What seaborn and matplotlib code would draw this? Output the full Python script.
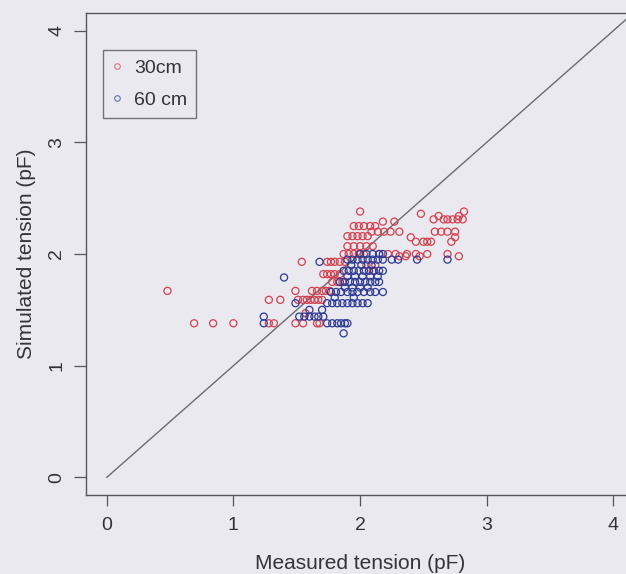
import matplotlib
matplotlib.use("Agg")
import matplotlib.pyplot as plt
import seaborn as sns
import pandas as pd
from matplotlib.lines import Line2D

# 30cm series (red)
red_x = [0.48, 1.49, 1.62, 1.66, 1.70, 1.73, 1.76,
         0.69, 0.84, 1.00, 1.28, 1.32, 1.49, 1.55, 1.66, 1.68,
         1.28, 1.37, 1.51, 1.55, 1.58, 1.61, 1.64, 1.67, 1.70,
         1.57,
         1.54, 1.74, 1.77, 1.80, 1.84, 1.88,
         1.71, 1.74, 1.77, 1.80, 1.84,
         1.78, 1.82, 1.86,
         1.87, 1.91, 1.95, 1.99, 2.03, 2.15, 2.22, 2.28, 2.37, 2.44, 2.53, 2.69,
         2.31, 2.36, 2.47, 2.78,
         1.90, 1.95, 2.00, 2.05, 2.10,
         1.90, 1.94, 1.98, 2.02, 2.06,
         1.95, 1.99, 2.03, 2.08, 2.12,
         2.00, 2.82,
         2.18, 2.27,
         2.09, 2.14, 2.19, 2.24, 2.31, 2.59, 2.64, 2.69, 2.75,
         2.44, 2.50, 2.53, 2.56, 2.72,
         2.75, 2.40,
         2.48,
         2.58, 2.66, 2.69, 2.73, 2.77, 2.81,
         2.62, 2.78,
         2.05, 2.12,
         2.10]
red_y = [1.67, 1.67, 1.67, 1.67, 1.67, 1.67, 1.67,
         1.38, 1.38, 1.38, 1.38, 1.38, 1.38, 1.38, 1.38, 1.38,
         1.59, 1.59, 1.59, 1.59, 1.59, 1.59, 1.59, 1.59, 1.59,
         1.47,
         1.93, 1.93, 1.93, 1.93, 1.93, 1.93,
         1.82, 1.82, 1.82, 1.82, 1.82,
         1.75, 1.75, 1.75,
         2.00, 2.00, 2.00, 2.00, 2.00, 2.00, 2.00, 2.00, 2.00, 2.00, 2.00, 2.00,
         1.98, 1.98, 1.98, 1.98,
         2.07, 2.07, 2.07, 2.07, 2.07,
         2.16, 2.16, 2.16, 2.16, 2.16,
         2.25, 2.25, 2.25, 2.25, 2.25,
         2.38, 2.38,
         2.29, 2.29,
         2.20, 2.20, 2.20, 2.20, 2.20, 2.20, 2.20, 2.20, 2.20,
         2.11, 2.11, 2.11, 2.11, 2.11,
         2.15, 2.15,
         2.36,
         2.31, 2.31, 2.31, 2.31, 2.31, 2.31,
         2.34, 2.34,
         1.90, 1.90,
         1.85]

# 60 cm series (blue)
blue_x = [1.68,
          1.40,
          1.49,
          1.24, 1.52, 1.56, 1.60, 1.64, 1.67, 1.71,
          1.24, 1.74, 1.78, 1.82, 1.85, 1.88, 1.90,
          1.87,
          1.74, 1.78, 1.82, 1.86, 1.90, 1.94, 1.98, 2.02, 2.06,
          1.77, 1.81, 1.85, 1.90, 1.94, 1.98, 2.03, 2.08, 2.12, 2.18,
          1.84, 1.88, 1.92, 1.96, 2.00, 2.04, 2.08, 2.12, 2.15,
          1.87, 1.91, 1.95, 1.99, 2.03, 2.07, 2.11, 2.15, 2.18,
          1.90, 1.94, 1.98, 2.02, 2.06, 2.10, 2.14, 2.18, 2.25, 2.30, 2.45, 2.69,
          2.00, 2.05, 2.10, 2.15, 2.18,
          1.90, 1.96, 2.02, 2.08, 2.14,
          1.88, 1.94, 2.00, 2.06,
          1.93, 2.01, 2.09,
          1.80, 1.95,
          1.60, 1.70]
blue_y = [1.93,
          1.79,
          1.56,
          1.44, 1.44, 1.44, 1.44, 1.44, 1.44, 1.44,
          1.38, 1.38, 1.38, 1.38, 1.38, 1.38, 1.38,
          1.29,
          1.56, 1.56, 1.56, 1.56, 1.56, 1.56, 1.56, 1.56, 1.56,
          1.66, 1.66, 1.66, 1.66, 1.66, 1.66, 1.66, 1.66, 1.66, 1.66,
          1.75, 1.75, 1.75, 1.75, 1.75, 1.75, 1.75, 1.75, 1.75,
          1.85, 1.85, 1.85, 1.85, 1.85, 1.85, 1.85, 1.85, 1.85,
          1.95, 1.95, 1.95, 1.95, 1.95, 1.95, 1.95, 1.95, 1.95, 1.95, 1.95, 1.95,
          2.00, 2.00, 2.00, 2.00, 2.00,
          1.80, 1.80, 1.80, 1.80, 1.80,
          1.70, 1.70, 1.70, 1.70,
          1.90, 1.90, 1.90,
          1.61, 1.61,
          1.50, 1.50]

series_names = ["30cm", "60 cm"]
x_ticks = [0, 1, 2, 3, 4]
y_ticks = [0, 1, 2, 3, 4]

df = pd.DataFrame({
    "measured": red_x + blue_x,
    "simulated": red_y + blue_y,
    "depth": [series_names[0]] * len(red_x) + [series_names[1]] * len(blue_x),
})

sns.set_style("white")
plt.rcParams["font.family"] = ["Liberation Sans", "DejaVu Sans"]

bg = "#e9e9ef"
txt = "#333338"
axc = "#55555c"
fig = plt.figure(figsize=(6.26, 5.74), dpi=100, facecolor=bg)
ax = fig.add_axes([0.1374, 0.1376, 0.875, 0.8403])
ax.set_facecolor(bg)

palette = {"30cm": "#d2414f", "60 cm": "#2e3a92"}

ax.plot([0, 4.3], [0, 4.3], color="#6a6a72", lw=1.0, zorder=1)

sns.scatterplot(data=df, x="measured", y="simulated", hue="depth",
                palette=palette, hue_order=series_names,
                marker="o", s=26, linewidth=0.9,
                legend=False, ax=ax, zorder=2)
coll = ax.collections[-1]
coll.set_edgecolors([palette[d] for d in df["depth"]])
coll.set_facecolors("none")

ax.set_xlim(-0.163, 4.16)
ax.set_ylim(-0.157, 4.16)
ax.set_xticks(x_ticks)
ax.set_yticks(y_ticks)
ax.set_xticklabels([str(t) for t in x_ticks], fontsize=14, color=txt)
ax.set_yticklabels([str(t) for t in y_ticks], fontsize=14, color=txt,
                   rotation=90, va="center")
ax.tick_params(axis="x", direction="out", length=8, width=0.9,
               color=axc, pad=8, bottom=True)
ax.tick_params(axis="y", direction="out", length=9, width=0.9,
               color=axc, pad=6, left=True)
for sp in ax.spines.values():
    sp.set_color(axc)
    sp.set_linewidth(1.0)

ax.set_xlabel("Measured tension (pF)", fontsize=15, color=txt, labelpad=14)
ax.set_ylabel("Simulated tension (pF)", fontsize=15, color=txt, labelpad=9)

handles = [Line2D([0], [0], marker="o", linestyle="none", markersize=4,
                  markerfacecolor="none", markeredgecolor=palette[n],
                  markeredgewidth=0.8, alpha=0.7) for n in series_names]
leg = ax.legend(handles, series_names, loc="upper left",
                bbox_to_anchor=(0.031, 0.922), frameon=True, fancybox=False,
                fontsize=14, handletextpad=0.64, handlelength=0.5,
                borderpad=0.45, labelspacing=0.75, borderaxespad=0)
leg.get_frame().set_edgecolor(axc)
leg.get_frame().set_facecolor(bg)
leg.get_frame().set_linewidth(1.0)
for t in leg.get_texts():
    t.set_color(txt)

fig.savefig("out.png", dpi=100, facecolor=bg)
